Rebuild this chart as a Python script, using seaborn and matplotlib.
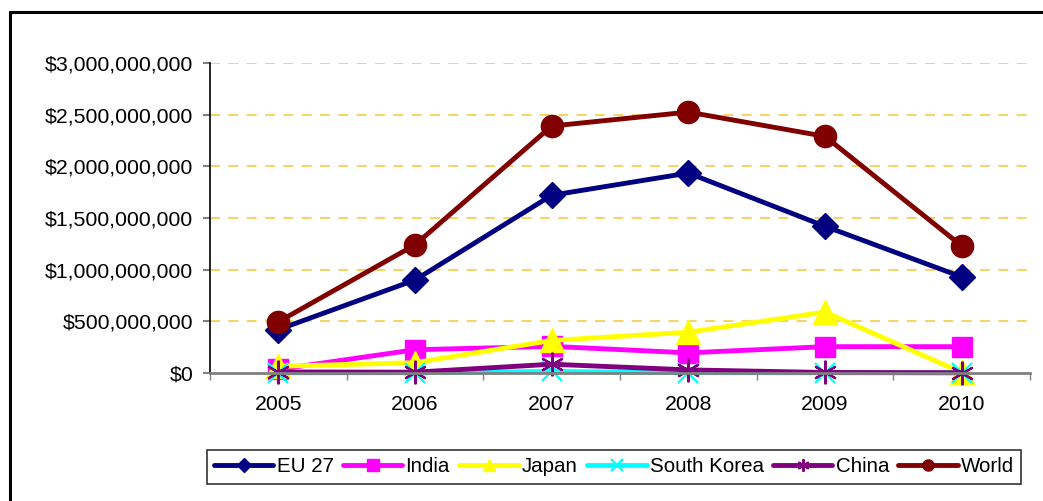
import matplotlib
matplotlib.use("Agg")
import matplotlib.pyplot as plt
import seaborn as sns
import numpy as np
import pandas as pd
from matplotlib.ticker import FuncFormatter, FixedLocator
from matplotlib.lines import Line2D
from matplotlib.patches import Rectangle

years = ["2005", "2006", "2007", "2008", "2009", "2010"]
eu27 = [420e6, 900e6, 1720e6, 1935e6, 1420e6, 930e6]
india = [35e6, 225e6, 258e6, 195e6, 255e6, 255e6]
japan = [65e6, 100e6, 315e6, 395e6, 590e6, 5e6]
south_korea = [2e6, 3e6, 15e6, 3e6, 2e6, 1e6]
china = [10e6, 8e6, 85e6, 30e6, 5e6, 3e6]
world = [495e6, 1240e6, 2390e6, 2525e6, 2290e6, 1230e6]

series = [
    ("EU 27", eu27, "#000080", "D", 13.5, 9, 1),
    ("India", india, "#FF00FF", "s", 15, 10, 1),
    ("Japan", japan, "#FFFF00", "^", 17, 11, 1),
    ("South Korea", south_korea, "#00FFFF", "x", 14, 10, 1.6),
    ("China", china, "#800080", (6, 2, 0), 17, 11, 1.6),
    ("World", world, "#800000", "o", 16, 10, 1),
]

sns.set_theme(style="white")
plt.rcParams["font.family"] = ["Liberation Sans", "DejaVu Sans"]
plt.rcParams["text.color"] = "black"

fig = plt.figure(figsize=(10.43, 5.01), dpi=100)
ax = fig.add_axes([210 / 1043, 1 - 373 / 501, 820 / 1043, 310 / 501])

x = np.arange(len(years))
handles = []
for name, vals, color, marker, ms, lms, mew in series:
    df = pd.DataFrame({"x": x, "y": vals})
    sns.lineplot(data=df, x="x", y="y", ax=ax, color=color, linewidth=3.5,
                 marker=marker, markersize=ms, markeredgecolor=color,
                 markerfacecolor=color, markeredgewidth=mew, clip_on=False)
    handles.append(Line2D([], [], color=color, linewidth=3.5, marker=marker,
                          markersize=lms * 0.8, markerfacecolor=color,
                          markeredgecolor=color, markeredgewidth=mew,
                          solid_capstyle="round", label=name))

ax.set_xlim(-0.5, 5.5)
ax.set_ylim(0, 3e9)
ax.set_xlabel("")
ax.set_ylabel("")
ax.set_xticks(x)
ax.set_xticklabels(years, fontsize=15.3)
ax.xaxis.set_minor_locator(FixedLocator(np.arange(-0.5, 6, 1)))
ax.tick_params(axis="x", which="major", length=0, pad=16, labelcolor="black")
ax.tick_params(axis="x", which="minor", length=5, width=1, color="#808080",
               direction="out", bottom=True)
ax.set_yticks(np.arange(0, 3.01e9, 5e8))
ax.yaxis.set_major_formatter(FuncFormatter(lambda v, p: "${:,.0f}".format(v)))
ax.tick_params(axis="y", which="major", length=5, width=1.5, color="#808080",
               direction="out", left=True, labelsize=15.3, pad=7,
               labelcolor="black")

for yv in np.arange(5e8, 3.01e9, 5e8):
    ax.axhline(yv, color="#F5CC4A", linewidth=1.2, dashes=(6, 5), zorder=0)

for s in ["top", "right"]:
    ax.spines[s].set_visible(False)
ax.spines["left"].set_color("black")
ax.spines["left"].set_linewidth(1.2)
ax.spines["bottom"].set_color("#808080")
ax.spines["bottom"].set_linewidth(2)

leg = fig.legend(handles=handles, loc="center", bbox_to_anchor=(614 / 1043, 1 - 467 / 501),
                 ncol=6, fontsize=14.8, frameon=True, fancybox=False,
                 handlelength=2.9, handletextpad=0.15, columnspacing=0.45,
                 borderpad=0.35, borderaxespad=0)
leg.get_frame().set_edgecolor("black")
leg.get_frame().set_linewidth(1.2)
for t in leg.get_texts():
    t.set_color("black")

fig.patches.append(Rectangle((10 / 1043, -0.2), 1.2, 1 - 12 / 501 + 0.2,
                             transform=fig.transFigure, fill=False,
                             edgecolor="black", linewidth=2.2))

fig.savefig("out.png", dpi=100)
